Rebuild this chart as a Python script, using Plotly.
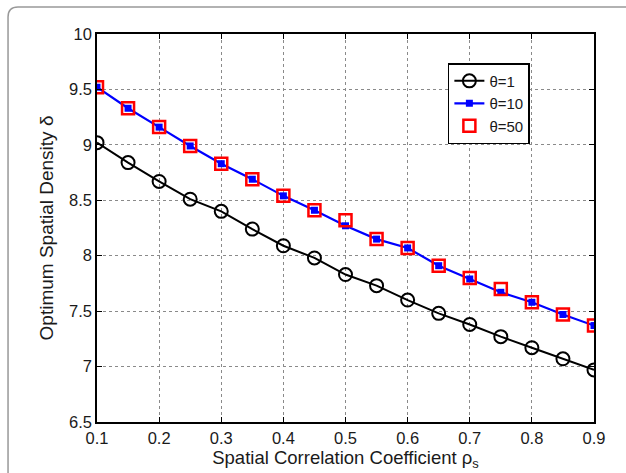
import plotly.graph_objects as go

rho = [0.1, 0.15, 0.2, 0.25, 0.3, 0.35, 0.4, 0.45, 0.5, 0.55, 0.6, 0.65, 0.7, 0.75, 0.8, 0.85, 0.9]
theta1 = [9.02, 8.84, 8.67, 8.51, 8.40, 8.24, 8.09, 7.98, 7.83, 7.73, 7.60, 7.48, 7.38, 7.27, 7.17, 7.07, 6.97]
theta10 = [9.52, 9.33, 9.16, 8.99, 8.83, 8.69, 8.54, 8.41, 8.27, 8.15, 8.07, 7.91, 7.79, 7.67, 7.58, 7.47, 7.37]
theta50 = [9.52, 9.33, 9.16, 8.99, 8.83, 8.69, 8.54, 8.41, 8.32, 8.15, 8.07, 7.91, 7.80, 7.70, 7.58, 7.47, 7.37]
x_ticks = [0.1, 0.2, 0.3, 0.4, 0.5, 0.6, 0.7, 0.8, 0.9]
y_ticks = [6.5, 7, 7.5, 8, 8.5, 9, 9.5, 10]
y_tick_text = ["6.5", "7", "7.5", "8", "8.5", "9", "9.5", "10"]

FONT = "Liberation Sans, Arial, Helvetica"
TXT = "#1a1a1a"

fig = go.Figure()
fig.add_trace(go.Scatter(x=rho, y=theta1, mode="lines+markers", name="θ=1",
                         line=dict(color="black", width=2),
                         marker=dict(symbol="circle-open", size=13, color="black", line=dict(width=2))))
fig.add_trace(go.Scatter(x=rho, y=theta10, mode="lines+markers", name="θ=10",
                         line=dict(color="blue", width=2.2),
                         marker=dict(symbol="square", size=7, color="blue")))
fig.add_trace(go.Scatter(x=rho, y=theta50, mode="markers", name="θ=50",
                         marker=dict(symbol="square-open", size=12, color="red", line=dict(width=2.5))))

axis_common = dict(showline=True, linecolor="black", linewidth=1.5, mirror="ticks",
                   ticks="inside", ticklen=5, tickcolor="black", automargin=False,
                   showgrid=True, gridcolor="#8a8a8a", griddash="dot", gridwidth=1,
                   zeroline=False, tickfont=dict(family=FONT, size=16.5, color=TXT))

fig.update_xaxes(range=[0.1, 0.9], tickvals=x_ticks, ticktext=[f"{v:.1f}" for v in x_ticks],
                 title=dict(text="Spatial Correlation Coefficient ρ<sub>s</sub>", standoff=6,
                            font=dict(family=FONT, size=18.5, color=TXT)),
                 **axis_common)
fig.update_yaxes(range=[6.5, 10], tickvals=y_ticks, ticktext=y_tick_text,
                 title=dict(text="Optimum Spatial Density δ", standoff=10,
                            font=dict(family=FONT, size=19, color=TXT)),
                 **axis_common)

# outer rounded frame (figure border)
fig.add_shape(type="path", xref="paper", yref="paper",
              path="M -0.179 -0.2 L -0.179 1.044 Q -0.179 1.0696 -0.159 1.0696 L 1.1 1.0696",
              line=dict(color="#999999", width=1.5))

fig.update_layout(
    width=626, height=473,
    margin=dict(l=97, r=32, t=34, b=51, autoexpand=False),
    plot_bgcolor="white", paper_bgcolor="white",
    showlegend=True,
    legend=dict(x=0.706, y=0.925, xanchor="left", yanchor="top",
                bgcolor="white", bordercolor="black", borderwidth=1.5,
                font=dict(family=FONT, size=15, color=TXT),
                itemwidth=30, tracegroupgap=0),
)

fig.write_html("out.html", config={"displayModeBar": False},
               post_script="document.body.style.margin='0';document.body.style.overflow='hidden';")
